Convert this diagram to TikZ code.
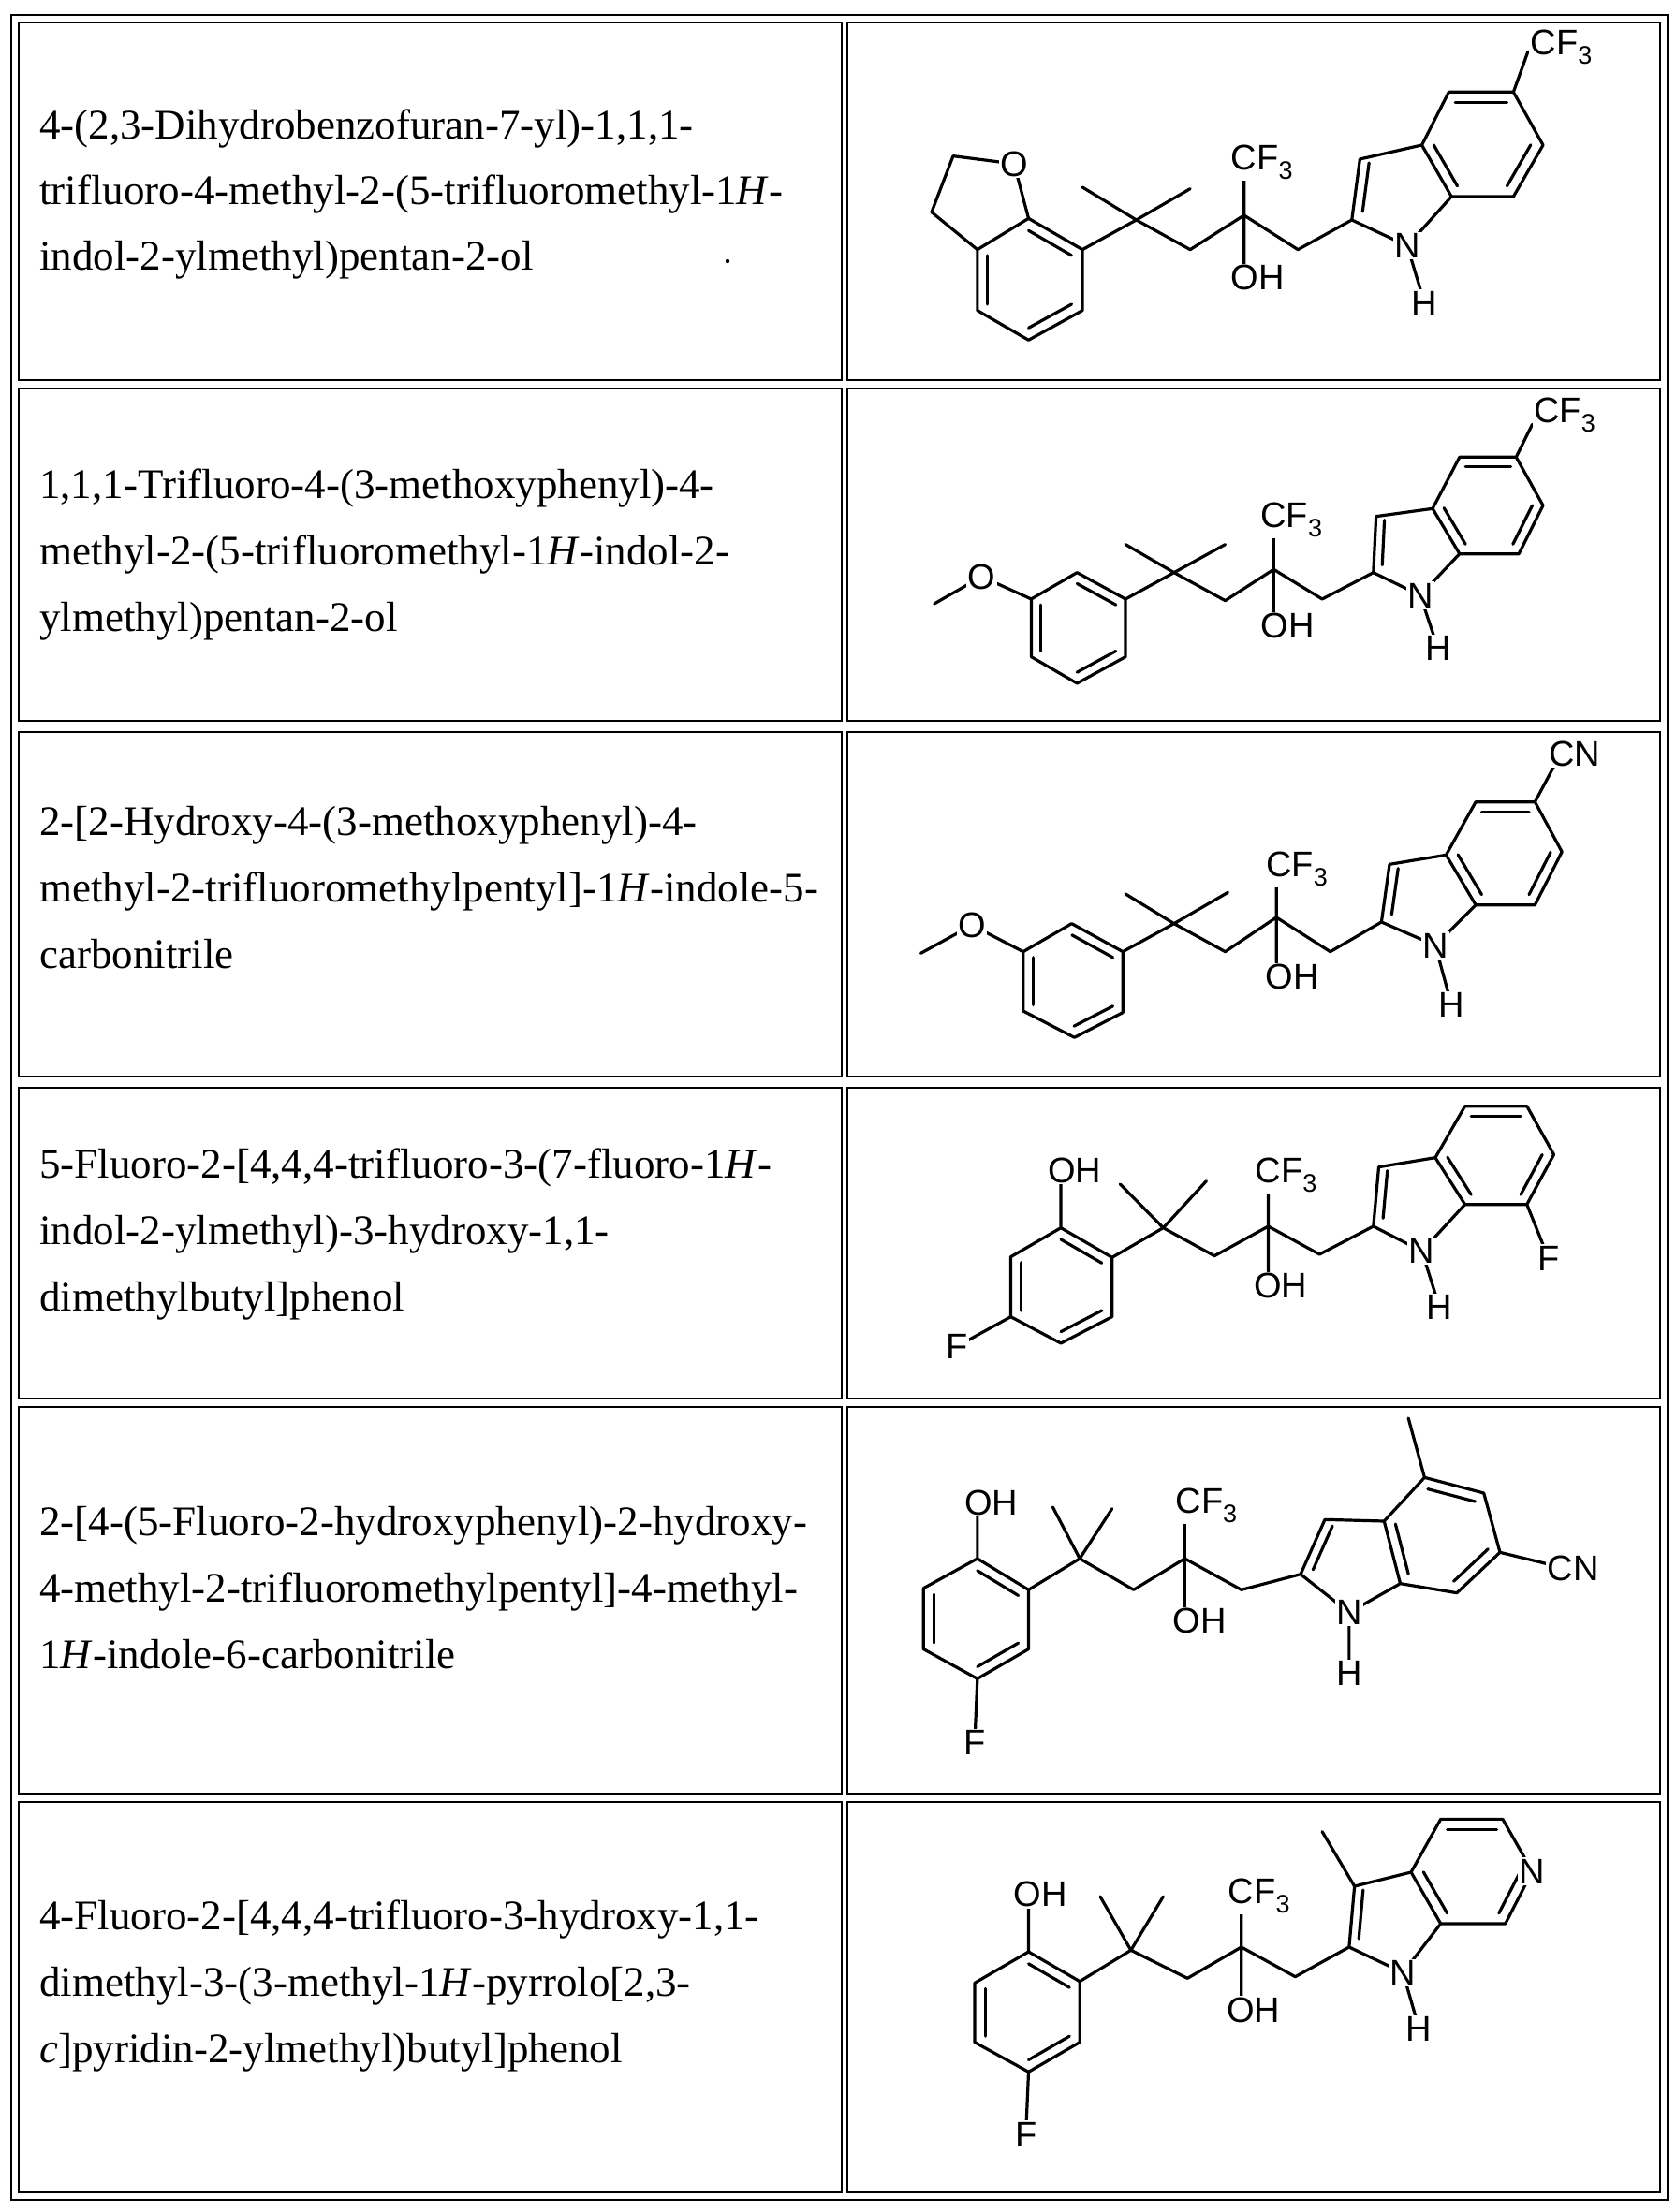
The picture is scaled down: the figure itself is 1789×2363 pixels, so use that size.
\documentclass[tikz,border=0pt]{standalone}
\usepackage{fontspec}
\setmainfont{Liberation Serif}
\newfontfamily\lblf{Liberation Sans}
\usetikzlibrary{calc}
\newcommand{\sbt}[1]{\raisebox{-10pt}{\fontsize{27}{27}\selectfont #1}}
\newcommand{\dbond}[3]{\draw[bond] ($(#1)!0.2!(#3)$) -- ($(#2)!0.2!(#3)$);}
\tikzset{
  bond/.style={line width=3.2pt, line cap=round, line join=round},
  lbl/.style={font=\lblf\fontsize{38}{38}\selectfont, fill=white, inner sep=1.5pt},
  lblw/.style={lbl, anchor=base west},
  cellbox/.style={draw, line width=2pt},
  txt/.style={font=\fontsize{45}{50}\selectfont, anchor=base west, inner sep=0pt}
}
\begin{document}
\begin{tikzpicture}[x=1pt,y=-1pt]
\useasboundingbox (0,0) rectangle (1789,2363);
% table
\draw[line width=2.8pt] (12,16) rectangle (1781,2350);
\foreach \ya/\yb in {24/406,415/770,782/1150,1162/1494,1503/1916,1925/2342}{
  \draw[cellbox] (20,\ya) rectangle (899,\yb);
  \draw[cellbox] (905,\ya) rectangle (1773,\yb);
}
% names
\node[txt] (t11) at (42,148) {4-(2,3-Dihydrobenzofuran-7-yl)-1,1,1-};
\node[txt] (t12) at (42,218) {trifluoro-4-methyl-2-(5-trifluoromethyl-1\textit{H}-};
\node[txt] (t13) at (42,288) {indol-2-ylmethyl)pentan-2-ol};
\fill (777,279) circle (2.2);
\node[txt] (t21) at (42,532) {1,1,1-Trifluoro-4-(3-methoxyphenyl)-4-};
\node[txt] (t22) at (42,603) {methyl-2-(5-trifluoromethyl-1\textit{H}-indol-2-};
\node[txt] (t23) at (42,674) {ylmethyl)pentan-2-ol};
\node[txt] (t31) at (42,892) {2-[2-Hydroxy-4-(3-methoxyphenyl)-4-};
\node[txt] (t32) at (42,963) {methyl-2-trifluoromethylpentyl]-1\textit{H}-indole-5-};
\node[txt] (t33) at (42,1034) {carbonitrile};
\node[txt] (t41) at (42,1258) {5-Fluoro-2-[4,4,4-trifluoro-3-(7-fluoro-1\textit{H}-};
\node[txt] (t42) at (42,1329) {indol-2-ylmethyl)-3-hydroxy-1,1-};
\node[txt] (t43) at (42,1400) {dimethylbutyl]phenol};
\node[txt] (t51) at (42,1640) {2-[4-(5-Fluoro-2-hydroxyphenyl)-2-hydroxy-};
\node[txt] (t52) at (42,1711) {4-methyl-2-trifluoromethylpentyl]-4-methyl-};
\node[txt] (t53) at (42,1782) {1\textit{H}-indole-6-carbonitrile};
\node[txt] (t61) at (42,2061) {4-Fluoro-2-[4,4,4-trifluoro-3-hydroxy-1,1-};
\node[txt] (t62) at (42,2132) {dimethyl-3-(3-methyl-1\textit{H}-pyrrolo[2,3-};
\node[txt] (t63) at (42,2203) {\textit{c}]pyridin-2-ylmethyl)butyl]phenol};

% ---------- structure 1
\begin{scope}[shift={(900,0)},x=0.5754pt,y=-0.3333pt]
\coordinate (fa) at (205,500); \coordinate (fb) at (165,680); \coordinate (o) at (318,525);
\coordinate (r1) at (345,700); \coordinate (r2) at (445,800); \coordinate (r3) at (445,995);
\coordinate (r4) at (345,1090); \coordinate (r5) at (250,995); \coordinate (r6) at (250,800);
\coordinate (q) at (545,705); \coordinate (m1) at (445,600); \coordinate (m2) at (645,605);
\coordinate (h1) at (645,800); \coordinate (c) at (745,690); \coordinate (cf) at (745,540);
\coordinate (oh) at (745,850); \coordinate (h2) at (845,800); \coordinate (i2) at (945,705);
\coordinate (n) at (1048,788); \coordinate (hh) at (1080,972); \coordinate (i3) at (960,510);
\coordinate (a3) at (1075,465); \coordinate (a7) at (1130,630); \coordinate (b4) at (1125,295);
\coordinate (b5) at (1245,295); \coordinate (b6) at (1300,465); \coordinate (b7) at (1245,630);
\coordinate (x) at (1272,165);
\draw[bond] (fa)--(o)--(r1) (fa)--(fb)--(r6);
\draw[bond] (r1)--(r2)--(r3)--(r4)--(r5)--(r6)--cycle;
\draw[bond] (r2)--(q)--(m1) (q)--(m2) (q)--(h1)--(c)--(h2)--(i2)--(i3)--(a3)--(a7)--(n)--(i2) (c)--(cf) (c)--(oh) (n)--(hh) (a3)--(b4)--(b5)--(b6)--(b7)--(a7) (b5)--(x);
\coordinate (bc) at ($(r1)!0.5!(r4)$); \coordinate (ic) at ($(b4)!0.5!(b7)$); \coordinate (pc) at ($(i3)!0.5!(a7)$);
\dbond{r1}{r2}{bc} \dbond{r3}{r4}{bc} \dbond{r5}{r6}{bc}
\dbond{b4}{b5}{ic} \dbond{b6}{b7}{ic} \dbond{a3}{a7}{ic} \dbond{i2}{i3}{pc}
\node[lbl] (s1o) at (o) {O};
\node[lblw] (s1cf) at (718,545) {CF\sbt{3}};
\node[lblw] (s1oh) at (718,930) {OH};
\node[lbl] (s1n) at (n) {N};
\node[lbl] (s1h) at (hh) {H};
\node[lblw] (s1cft) at (1274,175) {CF\sbt{3}};
\end{scope}

% ---------- structure 2
\begin{scope}[shift={(900,400)},x=0.5754pt,y=-0.3333pt]
\coordinate (me) at (170,735); \coordinate (o) at (258,648);
\coordinate (r1) at (435,635); \coordinate (r2) at (525,720); \coordinate (r3) at (525,905);
\coordinate (r4) at (435,990); \coordinate (r5) at (350,905); \coordinate (r6) at (350,720);
\coordinate (q) at (615,635); \coordinate (m1) at (525,545); \coordinate (m2) at (710,545);
\coordinate (h1) at (710,725); \coordinate (c) at (800,625); \coordinate (cf) at (800,485);
\coordinate (oh) at (800,775); \coordinate (h2) at (890,720); \coordinate (i2) at (985,635);
\coordinate (n) at (1072,708); \coordinate (hh) at (1105,878); \coordinate (i3) at (990,455);
\coordinate (a3) at (1095,430); \coordinate (a7) at (1145,575); \coordinate (b4) at (1145,265);
\coordinate (b5) at (1250,265); \coordinate (b6) at (1300,420); \coordinate (b7) at (1255,575);
\coordinate (x) at (1280,160);
\draw[bond] (me)--(o)--(r6);
\draw[bond] (r1)--(r2)--(r3)--(r4)--(r5)--(r6)--cycle;
\draw[bond] (r2)--(q)--(m1) (q)--(m2) (q)--(h1)--(c)--(h2)--(i2)--(i3)--(a3)--(a7)--(n)--(i2) (c)--(cf) (c)--(oh) (n)--(hh) (a3)--(b4)--(b5)--(b6)--(b7)--(a7) (b5)--(x);
\coordinate (bc) at ($(r1)!0.5!(r4)$); \coordinate (ic) at ($(b4)!0.5!(b7)$); \coordinate (pc) at ($(i3)!0.5!(a7)$);
\dbond{r1}{r2}{bc} \dbond{r6}{r5}{bc} \dbond{r4}{r3}{bc}
\dbond{b4}{b5}{ic} \dbond{b6}{b7}{ic} \dbond{a3}{a7}{ic} \dbond{i2}{i3}{pc}
\node[lbl] (s2o) at (o) {O};
\node[lblw] (s2cf) at (773,490) {CF\sbt{3}};
\node[lblw] (s2oh) at (773,845) {OH};
\node[lbl] (s2n) at (n) {N};
\node[lbl] (s2h) at (hh) {H};
\node[lblw] (s2cft) at (1280,155) {CF\sbt{3}};
\end{scope}

% ---------- structure 3
\begin{scope}[shift={(900,770)},x=0.5754pt,y=-0.3333pt]
\coordinate (me) at (145,745); \coordinate (o) at (240,655);
\coordinate (r1) at (425,650); \coordinate (r2) at (520,740); \coordinate (r3) at (520,935);
\coordinate (r4) at (430,1015); \coordinate (r5) at (335,930); \coordinate (r6) at (335,740);
\coordinate (q) at (615,650); \coordinate (m1) at (525,555); \coordinate (m2) at (715,550);
\coordinate (h1) at (710,740); \coordinate (c) at (805,630); \coordinate (cf) at (805,490);
\coordinate (oh) at (805,790); \coordinate (h2) at (905,740); \coordinate (i2) at (1000,645);
\coordinate (n) at (1100,720); \coordinate (hh) at (1130,910); \coordinate (i3) at (1015,460);
\coordinate (a3) at (1120,430); \coordinate (a7) at (1175,590); \coordinate (b4) at (1175,260);
\coordinate (b5) at (1285,260); \coordinate (b6) at (1335,420); \coordinate (b7) at (1285,590);
\coordinate (x) at (1322,140);
\draw[bond] (me)--(o)--(r6);
\draw[bond] (r1)--(r2)--(r3)--(r4)--(r5)--(r6)--cycle;
\draw[bond] (r2)--(q)--(m1) (q)--(m2) (q)--(h1)--(c)--(h2)--(i2)--(i3)--(a3)--(a7)--(n)--(i2) (c)--(cf) (c)--(oh) (n)--(hh) (a3)--(b4)--(b5)--(b6)--(b7)--(a7) (b5)--(x);
\coordinate (bc) at ($(r1)!0.5!(r4)$); \coordinate (ic) at ($(b4)!0.5!(b7)$); \coordinate (pc) at ($(i3)!0.5!(a7)$);
\dbond{r1}{r2}{bc} \dbond{r6}{r5}{bc} \dbond{r4}{r3}{bc}
\dbond{b4}{b5}{ic} \dbond{b6}{b7}{ic} \dbond{a3}{a7}{ic} \dbond{i2}{i3}{pc}
\node[lbl] (s3o) at (o) {O};
\node[lblw] (s3cf) at (783,500) {CF\sbt{3}};
\node[lblw] (s3oh) at (782,860) {OH};
\node[lbl] (s3n) at (n) {N};
\node[lbl] (s3h) at (hh) {H};
\node[lblw] (s3cn) at (1308,145) {CN};
\end{scope}

% ---------- structure 4
\begin{scope}[shift={(900,1150)},x=0.5754pt,y=-0.3333pt]
\coordinate (r1) at (405,485); \coordinate (r2) at (500,580); \coordinate (r3) at (500,770);
\coordinate (r4) at (405,855); \coordinate (r5) at (312,770); \coordinate (r6) at (312,578);
\coordinate (fl) at (212,865); \coordinate (po) at (405,330);
\coordinate (q) at (595,485); \coordinate (m1) at (515,345); \coordinate (m2) at (675,335);
\coordinate (h1) at (690,575); \coordinate (c) at (790,480); \coordinate (cf) at (790,335);
\coordinate (oh) at (790,625); \coordinate (h2) at (885,570); \coordinate (i2) at (985,480);
\coordinate (n) at (1075,560); \coordinate (hh) at (1108,740); \coordinate (i3) at (995,290);
\coordinate (a3) at (1100,260); \coordinate (a7) at (1155,410); \coordinate (b4) at (1155,95);
\coordinate (b5) at (1270,95); \coordinate (b6) at (1320,250); \coordinate (b7) at (1270,410);
\coordinate (fr) at (1310,582);
\draw[bond] (r1)--(r2)--(r3)--(r4)--(r5)--(r6)--cycle;
\draw[bond] (r5)--(fl) (r1)--(po);
\draw[bond] (r2)--(q)--(m1) (q)--(m2) (q)--(h1)--(c)--(h2)--(i2)--(i3)--(a3)--(a7)--(n)--(i2) (c)--(cf) (c)--(oh) (n)--(hh) (a3)--(b4)--(b5)--(b6)--(b7)--(a7) (b7)--(fr);
\coordinate (bc) at ($(r1)!0.5!(r4)$); \coordinate (ic) at ($(b4)!0.5!(b7)$); \coordinate (pc) at ($(i3)!0.5!(a7)$);
\dbond{r1}{r2}{bc} \dbond{r6}{r5}{bc} \dbond{r4}{r3}{bc}
\dbond{b4}{b5}{ic} \dbond{b6}{b7}{ic} \dbond{a3}{a7}{ic} \dbond{i2}{i3}{pc}
\node[lbl] (s4f) at (fl) {F};
\node[lblw] (s4po) at (378,340) {OH};
\node[lblw] (s4cf) at (763,340) {CF\sbt{3}};
\node[lblw] (s4oh) at (760,710) {OH};
\node[lbl] (s4n) at (n) {N};
\node[lbl] (s4h) at (hh) {H};
\node[lbl] (s4fr) at (fr) {F};
\end{scope}

% ---------- structure 5
\begin{scope}[shift={(900,1500)},x=0.5754pt,y=-0.3333pt]
\coordinate (r1) at (250,495); \coordinate (r2) at (345,595); \coordinate (r3) at (345,785);
\coordinate (r4) at (250,880); \coordinate (r5) at (150,785); \coordinate (r6) at (150,590);
\coordinate (fl) at (245,1085); \coordinate (po) at (250,345);
\coordinate (q) at (440,495); \coordinate (m1) at (390,330); \coordinate (m2) at (500,335);
\coordinate (h1) at (540,595); \coordinate (c) at (635,495); \coordinate (cf) at (635,345);
\coordinate (oh) at (635,650); \coordinate (h2) at (740,595); \coordinate (i2) at (850,545);
\coordinate (n) at (940,668); \coordinate (hh) at (940,862); \coordinate (i3) at (895,370);
\coordinate (a3) at (1005,375); \coordinate (a7) at (1035,575); \coordinate (b4) at (1080,235);
\coordinate (b5) at (1190,285); \coordinate (b6) at (1220,475); \coordinate (b7) at (1140,605);
\coordinate (me) at (1050,45); \coordinate (x) at (1315,515);
\draw[bond] (r1)--(r2)--(r3)--(r4)--(r5)--(r6)--cycle;
\draw[bond] (r4)--(fl) (r1)--(po);
\draw[bond] (r2)--(q)--(m1) (q)--(m2) (q)--(h1)--(c)--(h2)--(i2)--(i3)--(a3)--(a7)--(n)--(i2) (c)--(cf) (c)--(oh) (n)--(hh) (a3)--(b4)--(b5)--(b6)--(b7)--(a7) (b4)--(me) (b6)--(x);
\coordinate (bc) at ($(r1)!0.5!(r4)$); \coordinate (ic) at ($(b4)!0.5!(b7)$); \coordinate (pc) at ($(i3)!0.5!(a7)$);
\dbond{r1}{r2}{bc} \dbond{r6}{r5}{bc} \dbond{r4}{r3}{bc}
\dbond{b4}{b5}{ic} \dbond{b6}{b7}{ic} \dbond{a3}{a7}{ic} \dbond{i2}{i3}{pc}
\node[lbl] (s5f) at (fl) {F};
\node[lblw] (s5po) at (223,355) {OH};
\node[lblw] (s5cf) at (615,350) {CF\sbt{3}};
\node[lblw] (s5oh) at (610,735) {OH};
\node[lbl] (s5n) at (n) {N};
\node[lbl] (s5h) at (hh) {H};
\node[lblw] (s5cn) at (1305,565) {CN};
\end{scope}

% ---------- structure 6
\begin{scope}[shift={(900,1920)},x=0.5754pt,y=-0.3333pt]
\coordinate (r1) at (345,495); \coordinate (r2) at (440,590); \coordinate (r3) at (440,785);
\coordinate (r4) at (345,880); \coordinate (r5) at (245,785); \coordinate (r6) at (245,595);
\coordinate (fl) at (340,1080); \coordinate (po) at (345,340);
\coordinate (q) at (535,490); \coordinate (m1) at (478,318); \coordinate (m2) at (595,318);
\coordinate (h1) at (640,580); \coordinate (c) at (740,480); \coordinate (cf) at (740,335);
\coordinate (oh) at (740,640); \coordinate (h2) at (840,575); \coordinate (i2) at (940,480);
\coordinate (n) at (1040,562); \coordinate (hh) at (1070,742); \coordinate (i3) at (950,285);
\coordinate (a3) at (1055,240); \coordinate (a7) at (1110,405); \coordinate (b4) at (1110,70);
\coordinate (b5) at (1225,70); \coordinate (b6) at (1280,237); \coordinate (b7) at (1230,405);
\coordinate (me) at (890,110);
\draw[bond] (r1)--(r2)--(r3)--(r4)--(r5)--(r6)--cycle;
\draw[bond] (r4)--(fl) (r1)--(po);
\draw[bond] (r2)--(q)--(m1) (q)--(m2) (q)--(h1)--(c)--(h2)--(i2)--(i3)--(a3)--(a7)--(n)--(i2) (c)--(cf) (c)--(oh) (n)--(hh) (a3)--(b4)--(b5)--(b6)--(b7)--(a7) (i3)--(me);
\coordinate (bc) at ($(r1)!0.5!(r4)$); \coordinate (ic) at ($(b4)!0.5!(b7)$); \coordinate (pc) at ($(i3)!0.5!(a7)$);
\dbond{r1}{r2}{bc} \dbond{r6}{r5}{bc} \dbond{r4}{r3}{bc}
\dbond{b4}{b5}{ic} \dbond{b6}{b7}{ic} \dbond{a3}{a7}{ic} \dbond{i2}{i3}{pc}
\node[lbl] (s6f) at (fl) {F};
\node[lblw] (s6po) at (315,350) {OH};
\node[lblw] (s6cf) at (713,340) {CF\sbt{3}};
\node[lblw] (s6oh) at (710,720) {OH};
\node[lbl] (s6n) at (n) {N};
\node[lbl] (s6h) at (hh) {H};
\node[lbl] (s6pn) at (b6) {N};
\end{scope}
\end{tikzpicture}
\end{document}
